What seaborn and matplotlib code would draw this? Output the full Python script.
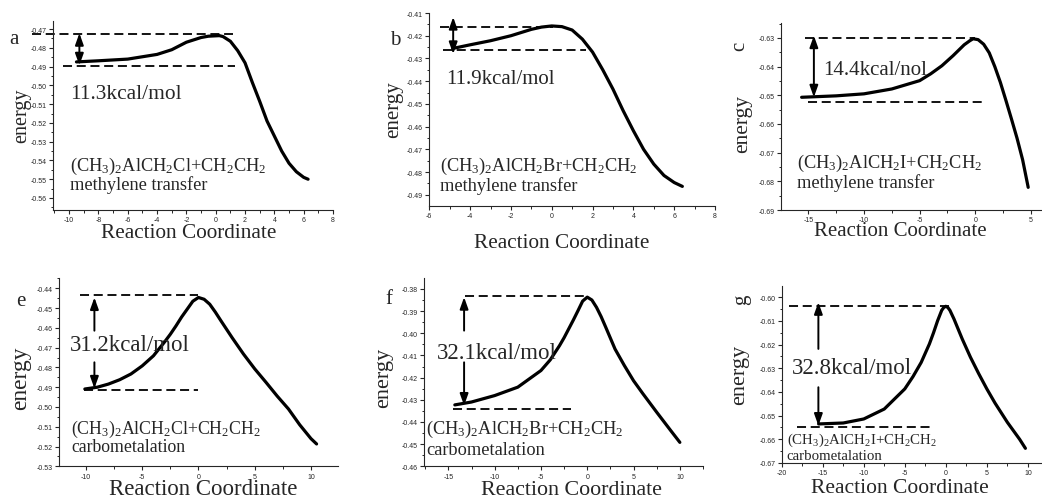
import matplotlib
matplotlib.use('Agg')
import matplotlib.pyplot as plt
from matplotlib.ticker import MultipleLocator, AutoMinorLocator, FormatStrFormatter
import seaborn as sns

sns.set_style('ticks')
plt.rcParams['font.family'] = ['Liberation Serif', 'DejaVu Serif']
plt.rcParams['mathtext.fontset'] = 'custom'
plt.rcParams['mathtext.rm'] = 'Liberation Serif'
plt.rcParams['mathtext.default'] = 'regular'

W, H = 1042, 502

# energy profiles
a_x = [-9.5, -8, -6, -4, -3, -2, -1, -0.5, 0, 0.25, 0.5, 1, 1.5, 2, 2.5, 3, 3.5, 4, 4.5, 5, 5.5, 6, 6.3]
a_energy = [-0.4875, -0.4869, -0.4860, -0.4835, -0.4810, -0.4770, -0.4745, -0.4738, -0.4736, -0.4735,
            -0.4740, -0.4765, -0.4815, -0.4880, -0.4985, -0.5085, -0.5190, -0.5270, -0.5350, -0.5415,
            -0.5460, -0.5490, -0.5500]

b_x = [-4.85, -4, -3, -2, -1, -0.5, 0, 0.5, 1, 1.5, 2, 2.5, 3, 3.5, 4, 4.5, 5, 5.5, 6, 6.4]
b_energy = [-0.4256, -0.4240, -0.4222, -0.4200, -0.4172, -0.4162, -0.4157, -0.4160, -0.4175, -0.4215,
            -0.4272, -0.4350, -0.4435, -0.4530, -0.4618, -0.4700, -0.4765, -0.4815, -0.4846, -0.4863]

c_x = [-15.6, -12.5, -10, -7.5, -5, -4, -3, -2, -1.5, -1, -0.5, -0.2, 0.25, 0.75, 1.25, 1.75, 2.25,
       2.75, 3.25, 3.75, 4.25, 4.75]
c_energy = [-0.6507, -0.6502, -0.6495, -0.6478, -0.6449, -0.6425, -0.6397, -0.6362, -0.6343, -0.6324,
            -0.6310, -0.6303, -0.6306, -0.6322, -0.6352, -0.6400, -0.6455, -0.6518, -0.6583, -0.6650,
            -0.6725, -0.6821]

e_x = [-10.1, -9, -8, -7, -6, -5, -4, -3, -2.5, -2, -1.5, -1, -0.5, 0, 0.5, 1, 1.5, 2, 3, 4, 5, 6,
       7, 8, 9, 10, 10.5]
e_energy = [-0.4909, -0.4900, -0.4884, -0.4862, -0.4833, -0.4792, -0.4741, -0.4670, -0.4632, -0.4590,
            -0.4545, -0.4505, -0.4465, -0.4446, -0.4455, -0.4480, -0.4520, -0.4564, -0.4650, -0.4732,
            -0.4807, -0.4875, -0.4945, -0.5010, -0.5090, -0.5160, -0.5187]

f_x = [-14.3, -12.5, -10, -7.5, -5, -4, -3, -2.5, -2, -1.5, -1, -0.5, 0, 0.5, 1, 1.5, 2, 3, 4, 5, 6,
       7.5, 9, 10]
f_energy = [-0.4323, -0.4310, -0.4281, -0.4243, -0.4168, -0.4120, -0.4056, -0.4020, -0.3980, -0.3940,
            -0.3898, -0.3855, -0.3837, -0.3850, -0.3883, -0.3925, -0.3973, -0.4071, -0.4145, -0.4214,
            -0.4272, -0.4356, -0.4438, -0.4492]

g_x = [-15.5, -12.5, -10, -7.5, -5, -4, -3, -2, -1.5, -1, -0.5, -0.25, 0, 0.25, 0.5, 1, 1.5, 2, 3,
       4, 5, 6, 7.5, 9, 9.7]
g_energy = [-0.6535, -0.6531, -0.6514, -0.6472, -0.6387, -0.6335, -0.6275, -0.6197, -0.6150, -0.6099,
            -0.6055, -0.6043, -0.6038, -0.6043, -0.6055, -0.6092, -0.6134, -0.6176, -0.6253, -0.6322,
            -0.6387, -0.6447, -0.6528, -0.6600, -0.6638]

barriers = ['11.3kcal/mol', '11.9kcal/mol', '14.4kcal/nol', '31.2kcal/mol', '32.1kcal/mol', '32.8kcal/mol']
letters = ['a', 'b', 'c', 'e', 'f', 'g']
reactants = ['(CH$_3$)$_2$AlCH$_2$Cl+CH$_2$CH$_2$', '(CH$_3$)$_2$AlCH$_2$Br+CH$_2$CH$_2$',
             '(CH$_3$)$_2$AlCH$_2$I+CH$_2$CH$_2$', '(CH$_3$)$_2$AlCH$_2$Cl+CH$_2$CH$_2$',
             '(CH$_3$)$_2$AlCH$_2$Br+CH$_2$CH$_2$', '(CH$_3$)$_2$AlCH$_2$I+CH$_2$CH$_2$']
mechanisms = ['methylene transfer'] * 3 + ['carbometalation'] * 3

# reference levels (y, x start, x end)
top_levels = [(-0.4727, -12.5, 1.2), (-0.4163, -5.48, 0.06), (-0.6301, -15.3, 0.0),
              (-0.4432, -10.5, 0.0), (-0.3830, -13.2, 0.0), (-0.6035, -19.07, 0.93)]
low_levels = [(-0.4895, -10.4, 1.3), (-0.4263, -5.35, 1.7), (-0.6522, -15.0, 0.6),
              (-0.4914, -10.2, 0.0), (-0.4341, -14.46, -1.8), (-0.6549, -18.1, -1.83)]
# arrows: x, then ends of a double arrow, or up tail, up head, down tail, down head
arrows = [(-9.3, -0.4722, -0.4893), (-4.83, -0.4118, -0.4280), (-14.5, -0.6292, -0.6507),
          (-9.25, -0.4614, -0.4446, -0.4774, -0.4906), (-13.3, -0.3988, -0.3837, -0.4131, -0.4326),
          (-15.53, -0.6218, -0.6021, -0.6380, -0.6542)]

panels = [
    dict(box=(53, 333, 22, 211), xlim=(-11.1, 8.0), ylim=(-0.5664, -0.4657), xstep=2,
         x=a_x, y=a_energy, btext=(-9.9, -0.5042, 15.4), ctext=(-9.93, -0.5427, -0.5524, 13.2),
         ylab=(21.7, 115.8, 14.5), xlab=(189, 233, 15.3), let=(14, 40, 0)),
    dict(box=(429.3, 715, 14, 206.7), xlim=(-6, 8), ylim=(-0.4948, -0.41), xstep=2,
         x=b_x, y=b_energy, btext=(-5.18, -0.4388, 15.0), ctext=(-5.47, -0.4773, -0.4856, 13.2),
         ylab=(394, 110, 15), xlab=(562, 243, 15.3), let=(395, 40.7, 0)),
    dict(box=(780.7, 1041, 24, 211), xlim=(-17.48, 5.9), ylim=(-0.69, -0.6248), xstep=5,
         x=c_x, y=c_energy, btext=(-13.65, -0.6411, 15.0), ctext=(-16.05, -0.6734, -0.6803, 13.2),
         ylab=(743, 124, 15.4), xlab=(900, 232, 15), let=(740, 46.7, 90)),
    dict(box=(59.3, 338.3, 279.3, 467.3), xlim=(-12.37, 12.43), ylim=(-0.53, -0.4349), xstep=5,
         x=e_x, y=e_energy, btext=(-11.4, -0.4682, 16.5), ctext=(-11.3, -0.5108, -0.5200, 12.8),
         ylab=(20.7, 378.3, 16.8), xlab=(203, 490, 16.5), let=(20.7, 301.7, 0)),
    dict(box=(424, 703, 279.3, 467.3), xlim=(-17.63, 12.5), ylim=(-0.46, -0.3752), xstep=5,
         x=f_x, y=f_energy, btext=(-16.26, -0.4086, 16.5), ctext=(-17.4, -0.4428, -0.4524, 13.2),
         ylab=(383.3, 378.3, 16), xlab=(571.7, 490.5, 15.8), let=(389.3, 299.3, 0)),
    dict(box=(781.7, 1041, 286.7, 464), xlim=(-20, 11.6), ylim=(-0.67, -0.5951), xstep=5,
         x=g_x, y=g_energy, btext=(-18.78, -0.6296, 16.5), ctext=(-19.4, -0.6600, -0.6670, 10.7),
         ylab=(739.3, 375, 16), xlab=(900, 488.5, 15.5), let=(741.7, 300, 90)),
]

fig = plt.figure(figsize=(W / 100, H / 100), dpi=100)

for i, p in enumerate(panels):
    l, r, t, b = p['box']
    ax = fig.add_axes([l / W, 1 - b / H, (r - l) / W, (b - t) / H])
    sns.lineplot(x=p['x'], y=p['y'], ax=ax, color='black', linewidth=2.3)
    ax.set_xlim(*p['xlim'])
    ax.set_ylim(*p['ylim'])
    sns.despine(ax=ax)
    for s in ['left', 'bottom']:
        ax.spines[s].set_linewidth(0.8)
    ax.xaxis.set_major_locator(MultipleLocator(p['xstep']))
    ax.xaxis.set_minor_locator(AutoMinorLocator(2))
    ax.yaxis.set_major_locator(MultipleLocator(0.01))
    ax.yaxis.set_minor_locator(AutoMinorLocator(2))
    ax.yaxis.set_major_formatter(FormatStrFormatter('%.2f'))
    ax.xaxis.set_major_formatter(FormatStrFormatter('%d'))
    ax.tick_params(which='major', direction='out', length=3, width=0.8, labelsize=5, pad=1.5)
    ax.tick_params(which='minor', direction='out', length=1.8, width=0.7)
    for lab in ax.get_xticklabels() + ax.get_yticklabels():
        lab.set_family('Liberation Sans')

    # dashed reference levels
    for y0, x0, x1 in (top_levels[i], low_levels[i]):
        ax.plot([x0, x1], [y0, y0], color='black', lw=1.3, ls=(0, (5, 2.6)), clip_on=False)

    arr = arrows[i]
    style = dict(arrowstyle='-|>,head_length=0.7,head_width=0.25', color='black', lw=1.4,
                 shrinkA=0, shrinkB=0)
    if len(arr) == 3:
        ax.annotate('', xy=(arr[0], arr[1]), xytext=(arr[0], arr[2]),
                    arrowprops=dict(style, arrowstyle='<|-|>,head_length=0.7,head_width=0.25'))
    else:
        ax.annotate('', xy=(arr[0], arr[2]), xytext=(arr[0], arr[1]), arrowprops=style)
        ax.annotate('', xy=(arr[0], arr[4]), xytext=(arr[0], arr[3]), arrowprops=style)

    bx, by, bs = p['btext']
    ax.text(bx, by, barriers[i], fontsize=bs, ha='left', va='center')
    cx, cy1, cy2, cs = p['ctext']
    ax.text(cx, cy1, reactants[i], fontsize=cs, ha='left', va='center')
    ax.text(cx, cy2, mechanisms[i], fontsize=cs, ha='left', va='center')

    yx, yy, ys = p['ylab']
    fig.text(yx / W, 1 - yy / H, 'energy', rotation=90, fontsize=ys, ha='center', va='center')
    xx, xy_, xs = p['xlab']
    fig.text(xx / W, 1 - xy_ / H, 'Reaction Coordinate', fontsize=xs, ha='center', va='center')
    lx, ly, lr = p['let']
    fig.text(lx / W, 1 - ly / H, letters[i], rotation=lr, fontsize=15, ha='center', va='center')

fig.savefig('out.png', dpi=100)
